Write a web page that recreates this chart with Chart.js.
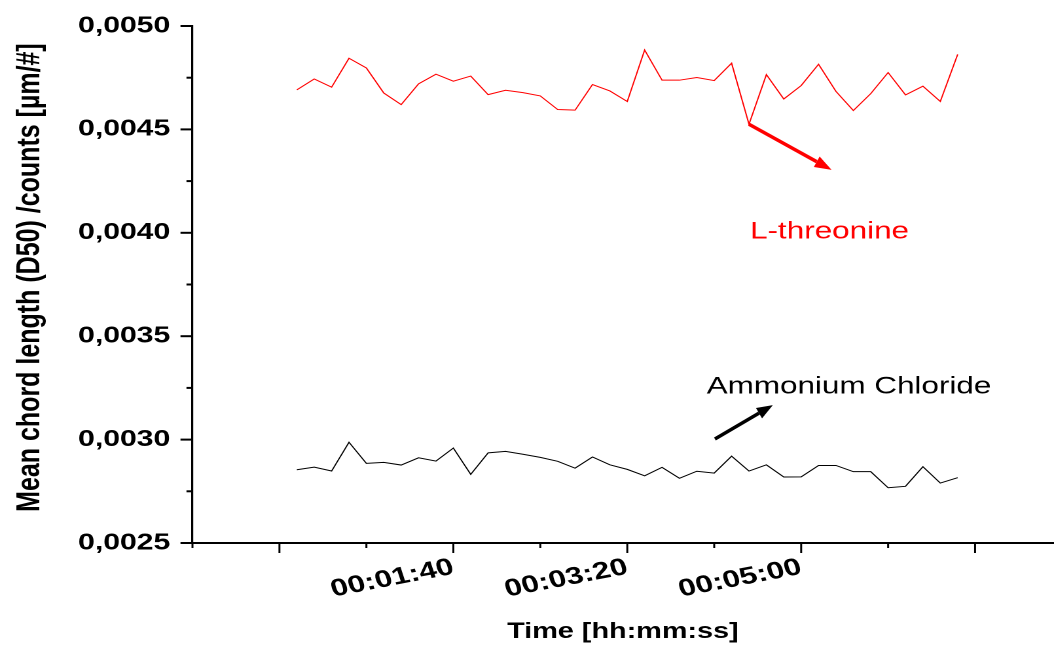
<!DOCTYPE html>
<html>
<head>
<meta charset="utf-8">
<script src="https://cdn.jsdelivr.net/npm/chart.js@4/dist/chart.umd.min.js"></script>
<style>
  html, body { margin: 0; padding: 0; background: #fff; overflow: hidden; }
  /* the figure is drawn narrow and widened horizontally, like the exported plot */
  #wrap { position: absolute; left: 0; top: 0; width: 805px; height: 646px;
          transform: scaleX(1.3093); transform-origin: 0 0; }
</style>
</head>
<body>
<div id="wrap"><canvas id="chart"></canvas></div>
<script>
// Sampling times in seconds
const timeSeconds = [10, 20, 30, 40, 50, 60, 70, 80, 90, 100,
                     110, 120, 130, 140, 150, 160, 170, 180, 190, 200,
                     210, 220, 230, 240, 250, 260, 270, 280, 290, 300,
                     310, 320, 330, 340, 350, 360, 370, 380, 390];

// Mean chord length (D50) / counts [µm/#]
const lThreonine = [0.004691, 0.004744, 0.004704, 0.004844, 0.004797, 0.004676, 0.004620, 0.004720, 0.004767, 0.004733,
                    0.004758, 0.004668, 0.004689, 0.004678, 0.004662, 0.004596, 0.004593, 0.004717, 0.004686, 0.004635,
                    0.004884, 0.004738, 0.004738, 0.004751, 0.004736, 0.004820, 0.004525, 0.004765, 0.004647, 0.004712,
                    0.004815, 0.004684, 0.004591, 0.004673, 0.004775, 0.004667, 0.004709, 0.004635, 0.004863];

const ammoniumChloride = [0.002854, 0.002867, 0.002848, 0.002987, 0.002885, 0.002890, 0.002877, 0.002912, 0.002896, 0.002959,
                          0.002832, 0.002936, 0.002943, 0.002929, 0.002914, 0.002895, 0.002862, 0.002916, 0.002878, 0.002856,
                          0.002825, 0.002866, 0.002813, 0.002847, 0.002838, 0.002920, 0.002848, 0.002878, 0.002819, 0.002820,
                          0.002875, 0.002875, 0.002845, 0.002845, 0.002767, 0.002774, 0.002869, 0.002790, 0.002816];

// Axis ticks
const xLabelSeconds = [100, 200, 300];
const xMarkSeconds = [-50, 0, 50, 100, 150, 200, 250, 300, 350, 400];
const yTickValues = [0.0025, 0.0030, 0.0035, 0.0040, 0.0045, 0.0050];
const yMarkValues = [0.0025, 0.00275, 0.0030, 0.00325, 0.0035, 0.00375, 0.0040, 0.00425, 0.0045, 0.00475, 0.0050];

// Annotation anchors (time s, value)
const redArrow = [[270, 0.004525], [317.5, 0.004304]];
const blackArrow = [[250.4, 0.003003], [283.7, 0.003167]];
const redLabel = [316.3, 0.004004];
const blackLabel = [327.5, 0.003254];

const STRETCH = 1.3093;
const FONT = "'Liberation Sans', Arial, sans-serif";

function hms(sec) {
  const h = Math.floor(sec / 3600), m = Math.floor((sec % 3600) / 60), s = sec % 60;
  const p = n => String(n).padStart(2, '0');
  return p(h) + ':' + p(m) + ':' + p(s);
}

const tickMarks = {
  id: 'tickMarks',
  afterDraw(chart) {
    const { ctx, scales: { x, y } } = chart;
    ctx.save();
    ctx.strokeStyle = '#000';
    ctx.lineWidth = 1.5;
    xMarkSeconds.forEach(v => {
      const px = x.getPixelForValue(v);
      const len = v % 100 === 0 ? 10 : 5;
      ctx.beginPath();
      ctx.moveTo(px, y.bottom);
      ctx.lineTo(px, y.bottom + len);
      ctx.stroke();
    });
    ctx.lineWidth = 2;
    yMarkValues.forEach(v => {
      const py = y.getPixelForValue(v);
      const major = yTickValues.some(t => Math.abs(t - v) < 1e-9);
      const len = (major ? 12 : 6) / STRETCH;
      ctx.beginPath();
      ctx.moveTo(x.left - len, py);
      ctx.lineTo(x.left, py);
      ctx.stroke();
    });
    ctx.restore();
  }
};

function arrow(ctx, x0, y0, x1, y1, color, width, headLen, headHalf) {
  const ang = Math.atan2(y1 - y0, x1 - x0);
  const bx = x1 - headLen * Math.cos(ang), by = y1 - headLen * Math.sin(ang);
  ctx.strokeStyle = color;
  ctx.fillStyle = color;
  ctx.lineWidth = width;
  ctx.beginPath();
  ctx.moveTo(x0, y0);
  ctx.lineTo(bx, by);
  ctx.stroke();
  ctx.beginPath();
  ctx.moveTo(x1, y1);
  ctx.lineTo(bx + headHalf * Math.sin(ang), by - headHalf * Math.cos(ang));
  ctx.lineTo(bx - headHalf * Math.sin(ang), by + headHalf * Math.cos(ang));
  ctx.closePath();
  ctx.fill();
}

const annotations = {
  id: 'annotations',
  afterDatasetsDraw(chart) {
    const { ctx, scales: { x, y } } = chart;
    ctx.save();
    ctx.font = '24px ' + FONT;
    ctx.textAlign = 'center';
    ctx.textBaseline = 'middle';
    ctx.fillStyle = '#ff0000';
    ctx.fillText('L-threonine', x.getPixelForValue(redLabel[0]), y.getPixelForValue(redLabel[1]));
    ctx.fillStyle = '#000';
    ctx.fillText('Ammonium Chloride', x.getPixelForValue(blackLabel[0]), y.getPixelForValue(blackLabel[1]));
    ctx.restore();

    // arrows drawn in unstretched space so the heads keep their shape
    ctx.save();
    ctx.scale(1 / STRETCH, 1);
    const P = (pt) => [x.getPixelForValue(pt[0]) * STRETCH, y.getPixelForValue(pt[1])];
    let a = P(redArrow[0]), b = P(redArrow[1]);
    arrow(ctx, a[0], a[1], b[0], b[1], '#ff0000', 3.5, 17, 6);
    a = P(blackArrow[0]); b = P(blackArrow[1]);
    arrow(ctx, a[0], a[1], b[0], b[1], '#000', 3.5, 16, 6);
    ctx.restore();
  }
};

new Chart(document.getElementById('chart'), {
  type: 'line',
  data: {
    datasets: [
      {
        label: 'L-threonine',
        data: timeSeconds.map((t, i) => ({ x: t, y: lThreonine[i] })),
        borderColor: '#ff0000',
        borderWidth: 1,
        pointRadius: 0,
        tension: 0,
        fill: false
      },
      {
        label: 'Ammonium Chloride',
        data: timeSeconds.map((t, i) => ({ x: t, y: ammoniumChloride[i] })),
        borderColor: '#000000',
        borderWidth: 1,
        pointRadius: 0,
        tension: 0,
        fill: false
      }
    ]
  },
  options: {
    responsive: true,
    maintainAspectRatio: false,
    animation: false,
    devicePixelRatio: 2,
    layout: { padding: { top: 26, right: 0, left: 0, bottom: 0 } },
    plugins: { legend: { display: false }, tooltip: { enabled: false } },
    scales: {
      x: {
        type: 'linear',
        min: -50,
        max: 445,
        afterBuildTicks: axis => { axis.ticks = xLabelSeconds.map(v => ({ value: v })); },
        afterFit: axis => { axis.height = 103; axis.paddingLeft = 0; axis.paddingRight = 0; },
        grid: { display: false, drawTicks: false },
        border: { display: true, color: '#000', width: 2 },
        ticks: {
          autoSkip: false,
          minRotation: 14,
          maxRotation: 14,
          padding: 10,
          color: '#000',
          font: { family: FONT, size: 24, weight: 'bold' },
          callback: v => hms(v)
        },
        title: {
          display: true,
          text: 'Time [hh:mm:ss]',
          color: '#000',
          font: { family: FONT, size: 22, weight: 'bold' },
          padding: { top: 0, bottom: 1 }
        }
      },
      y: {
        min: 0.0025,
        max: 0.0050,
        afterBuildTicks: axis => { axis.ticks = yTickValues.map(v => ({ value: v })); },
        afterFit: axis => { axis.width = 147; axis.paddingTop = 0; axis.paddingBottom = 0; },
        grid: { display: false, drawTicks: false },
        border: { display: true, color: '#000', width: 1.6 },
        ticks: {
          padding: 17,
          color: '#000',
          font: { family: FONT, size: 23, weight: 'bold' },
          callback: v => v.toFixed(4).replace('.', ',')
        },
        title: {
          display: true,
          text: '  Mean chord length (D50) /counts [µm/#]',
          color: '#000',
          font: { family: FONT, size: 25, weight: 'bold' },
          padding: { top: 8, bottom: 0 }
        }
      }
    }
  },
  plugins: [tickMarks, annotations]
});
</script>
</body>
</html>
